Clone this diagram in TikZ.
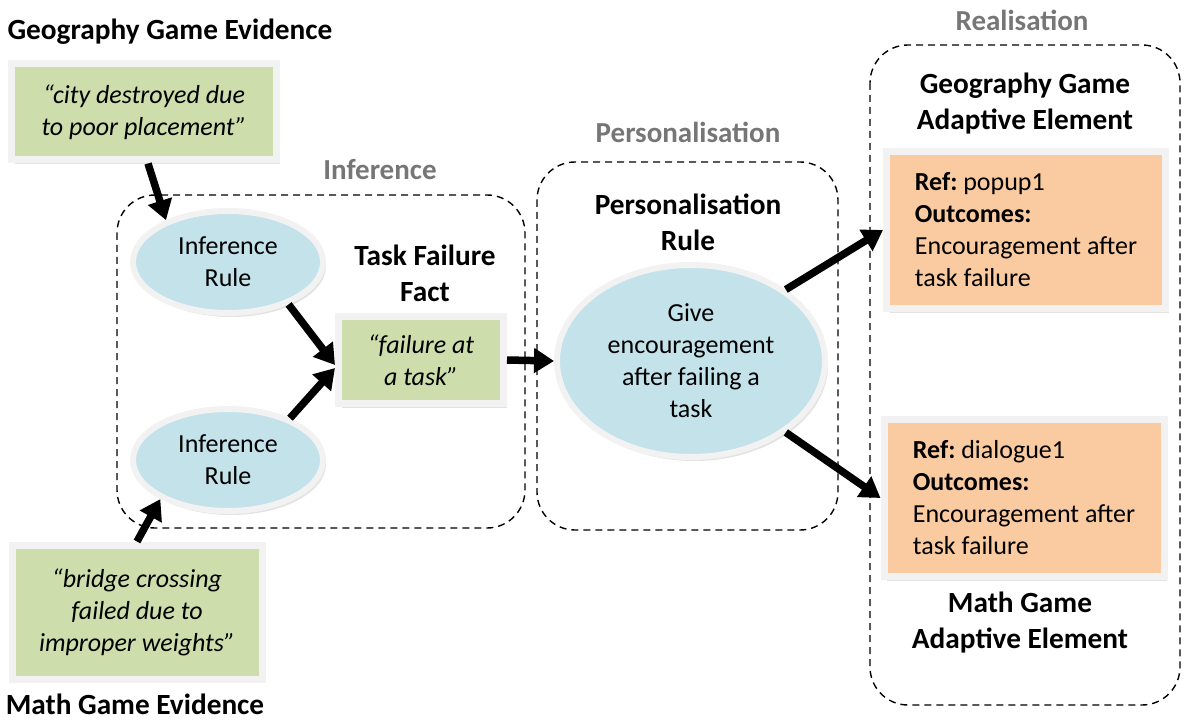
\documentclass[tikz,border=0pt]{standalone}
\usepackage{fontspec}
\setmainfont{Carlito}
\usetikzlibrary{shapes.geometric,arrows.meta,shadows}
\definecolor{evgreen}{RGB}{206,221,172}
\definecolor{ruleblue}{RGB}{195,226,234}
\definecolor{outorange}{RGB}{250,203,161}
\definecolor{framegray}{RGB}{242,242,242}
\definecolor{labelgray}{RGB}{118,118,118}
\begin{document}
\begin{tikzpicture}[x=1pt,y=-1pt,
  body/.style={font=\fontsize{26}{32}\selectfont},
  head/.style={font=\bfseries\fontsize{29.3}{36}\selectfont, align=center, inner sep=0pt},
  grouplabel/.style={font=\bfseries\fontsize{29}{36}\selectfont, text=labelgray, inner sep=0pt},
  groupbox/.style={draw=black, line width=1.4pt, dash pattern=on 7pt off 5pt, rounded corners=38pt},
  softshadow/.style={drop shadow={opacity=0.22, shadow xshift=3pt, shadow yshift=-4pt}},
  evbox/.style={body, font=\fontsize{26}{32}\selectfont\itshape, fill=evgreen, draw=framegray, line width=7pt, align=center, inner sep=0pt, softshadow},
  outbox/.style={body, fill=outorange, draw=framegray, line width=7pt, align=left, inner sep=0pt, softshadow},
  rulenode/.style={ellipse, fill=ruleblue, draw=framegray, line width=6pt, inner sep=0pt, softshadow},
  ruletext/.style={body, align=center, inner sep=0pt},
  bigarrow/.style={line width=7.5pt, -{Triangle[length=20pt,width=24pt]}}
]
\useasboundingbox (0,0) rectangle (1184,722);

% group boxes
\draw[groupbox] (117,195) rectangle (525,528);
\draw[groupbox] (537,162) rectangle (838,530);
\draw[groupbox] (870,45) rectangle (1180,705);
\node[grouplabel] (labinf) at (380,170) {Inference};
\node[grouplabel] (labpers) at (688,132) {Personalisation};
\node[grouplabel] (labreal) at (1022,20) {Realisation};

% evidence
\node[head] (hgeo) at (170,32) {Geography Game Evidence};
\node[evbox, minimum width=265pt, minimum height=96pt] (ev1) at (144,112) {“city destroyed due\\to poor placement”};
\node[evbox, minimum width=250pt, minimum height=134pt] (ev3) at (137,612) {“bridge crossing\\failed due to\\improper weights”};
\node[head] (hmath) at (135,704) {Math Game Evidence};

% inference rules
\node[rulenode, minimum width=190pt, minimum height=102pt] (ell1) at (228,262) {};
\node[ruletext] (ell1t) at (ell1) {Inference\\Rule};
\node[rulenode, minimum width=190pt, minimum height=102pt] (ell2) at (228,460) {};
\node[ruletext] (ell2t) at (ell2) {Inference\\Rule};

% fact
\node[head] (hfact) at (425,273) {Task Failure\\Fact};
\node[evbox, minimum width=165pt, minimum height=87pt] (fact) at (421,360) {“failure at\\a task”};

% personalisation
\node[head] (hpers) at (688,222) {Personalisation\\Rule};
\node[rulenode, minimum width=268pt, minimum height=192pt] (pe) at (691,361) {};
\node[ruletext] (pet) at (pe) {Give\\encouragement\\after failing a\\task};

% realisation
\node[head] (hgeoad) at (1025,104) {Geography Game\\Adaptive Element};
\node[outbox, minimum width=279pt, minimum height=157pt] (or1) at (1026,230) {\textbf{Ref:}~popup1\\\textbf{Outcomes:}\\Encouragement after\\task failure};
\node[outbox, minimum width=280pt, minimum height=157pt] (or2) at (1024,498) {\textbf{Ref:}~dialogue1\\\textbf{Outcomes:}\\Encouragement after\\task failure};
\node[head] (hmathad) at (1020,623) {Math Game\\Adaptive Element};

% arrows
\draw[bigarrow] ([xshift=4pt]ev1.south) -- (ell1.146);
\draw[bigarrow] (ev3.north) -- (ell2.210);
\draw[bigarrow] (ell1.-35) -- ([yshift=-5pt]fact.west);
\draw[bigarrow] (ell2.34) -- ([yshift=-8pt]fact.west);
\draw[bigarrow] (fact.east) -- (pe.west);
\draw[bigarrow] (pe.37) -- (or1.west);
\draw[bigarrow] (pe.-37) -- (or2.west);
\end{tikzpicture}
\end{document}
